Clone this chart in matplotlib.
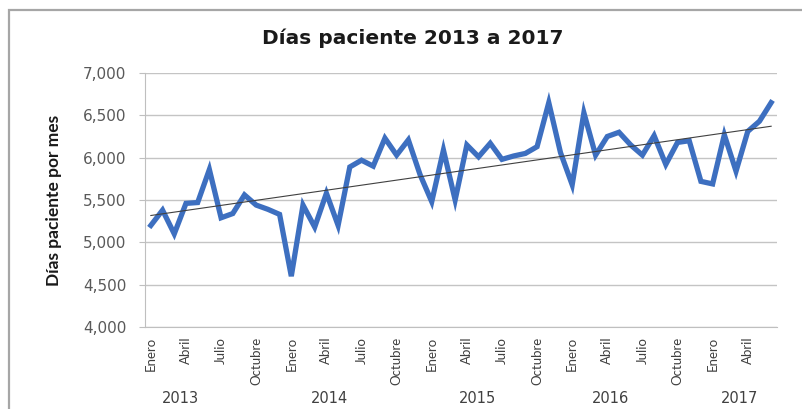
import numpy as np
import matplotlib
matplotlib.use("Agg")
import matplotlib.pyplot as plt
import matplotlib.patches as mpatches
import matplotlib.transforms as mtransforms

# ---- data ----
years = [2013, 2014, 2015, 2016, 2017]
months_per_year = [12, 12, 12, 12, 6]
month_names = ["Enero", "Febrero", "Marzo", "Abril", "Mayo", "Junio",
               "Julio", "Agosto", "Septiembre", "Octubre", "Noviembre", "Diciembre"]

dias_2013 = [5200, 5380, 5100, 5460, 5470, 5860, 5290, 5340, 5560, 5440, 5390, 5330]
dias_2014 = [4600, 5440, 5180, 5580, 5200, 5890, 5970, 5900, 6230, 6030, 6210, 5800]
dias_2015 = [5480, 6090, 5500, 6150, 6010, 6170, 5980, 6020, 6050, 6130, 6650, 6060]
dias_2016 = [5680, 6530, 6030, 6250, 6300, 6150, 6030, 6260, 5920, 6180, 6200, 5720]
dias_2017 = [5690, 6270, 5840, 6310, 6430, 6650]

values = np.array(dias_2013 + dias_2014 + dias_2015 + dias_2016 + dias_2017, dtype=float)
x = np.arange(len(values))

# month label for every point (only every 3rd shown, like the original)
labels = []
for n in months_per_year:
    labels += month_names[:n]

# ---- figure ----
W, H = 803, 409
fig = plt.figure(figsize=(W / 100, H / 100), dpi=100)
fig.patch.set_facecolor("white")

# outer chart border
fig.patches.append(mpatches.Rectangle((9 / W, -0.05), 1.2, 1 - 10 / H + 0.05,
                                      transform=fig.transFigure, fill=False,
                                      ec="#a6a6a6", lw=1.6))

ax = fig.add_axes([145 / W, 1 - 327 / H, (777 - 145) / W, (327 - 73) / H])

ax.plot(x, values, color="#3d6fc0", lw=3.8, solid_joinstyle="miter", zorder=3)

# linear trend line
coef = np.polyfit(x, values, 1)
ax.plot(x, np.polyval(coef, x), color="#404040", lw=0.8, zorder=4)

ax.set_xlim(-0.5, len(values) - 0.5)
ax.set_ylim(4000, 7000)
ax.set_yticks(np.arange(4000, 7001, 500))
ax.set_yticklabels([f"{v:,}" for v in range(4000, 7001, 500)],
                   fontsize=11, color="#595959", family="DejaVu Sans")
ax.grid(axis="y", color="#c4c4c4", lw=1.0)
ax.set_axisbelow(True)

tick_idx = [i for i, lab in enumerate(labels) if lab in ("Enero", "Abril", "Julio", "Octubre")]
ax.set_xticks(tick_idx)
ax.set_xticklabels([labels[i] for i in tick_idx], rotation=90, fontsize=9.5,
                   color="#404040", family="Lato", va="top")
ax.tick_params(axis="x", length=0, pad=7)
ax.tick_params(axis="y", length=4, color="#bfbfbf", pad=9.5)

for s in ["top", "right"]:
    ax.spines[s].set_visible(False)
ax.spines["left"].set_color("#bfbfbf")
ax.spines["bottom"].set_color("#bfbfbf")

# year labels below the month labels (offset inside each year, as in the original)
year_offset = [2.5, 3.3, 3.9, 3.3, 2.3]
trans = mtransforms.blended_transform_factory(ax.transData, ax.transAxes)
start = 0
for yr, n, off in zip(years, months_per_year, year_offset):
    ax.text(start + off, -0.28, str(yr), transform=trans, ha="center", va="center",
            fontsize=10.5, color="#404040", family="DejaVu Sans")
    start += n

ax.set_ylabel("Días paciente por mes", fontsize=12.5, fontweight="bold",
              family="Lato", color="#1a1a1a", labelpad=15)

fig.text(413 / W, 1 - 38 / H, "Días paciente 2013 a 2017", ha="center", va="center",
         fontsize=14.5, fontweight="bold", family="DejaVu Sans", color="#1a1a1a")

fig.savefig("out.png", dpi=100, facecolor="white")
